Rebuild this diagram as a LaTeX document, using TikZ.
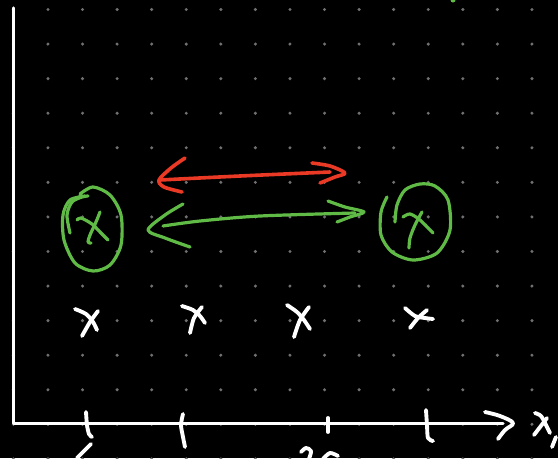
\documentclass[tikz,border=0pt]{standalone}
\definecolor{gr}{RGB}{96,186,70}
\definecolor{rd}{RGB}{234,58,38}
\definecolor{dotc}{RGB}{112,112,112}
\begin{document}
\begin{tikzpicture}[x=0.75pt,y=-0.75pt,
  wpen/.style={draw=white,line width=2.4pt,line cap=round,line join=round},
  wthick/.style={wpen,line width=2.9pt},
  gpen/.style={draw=gr,line width=2.4pt,line cap=round,line join=round},
  rpen/.style={draw=rd,line width=2.7pt,line cap=round,line join=round}]
\fill[black] (0,0) rectangle (558,458);
\useasboundingbox (0,0) rectangle (558,458);
% dot grid
\foreach \i in {0,...,15}{
  \foreach \j in {0,...,13}{
    \fill[dotc] ({13.4+34.57*\i},{9.5+34.57*\j}) circle (1.7);
  }
}
% axes
\coordinate (ytop) at (13.5,8);
\coordinate (orig) at (13.5,423.5);
\coordinate (xend) at (503,423.5);
\draw[wpen] (ytop) -- (orig) -- (xend);
\draw[wthick] plot[smooth,tension=0.6] coordinates {(485,412) (500,416) (513,423) (505,430) (498,439)};
% ticks
\draw[wthick] plot[smooth] coordinates {(86,412) (87,425) (89,434) (92,437)};
\draw[wthick] plot[smooth] coordinates {(183,414) (181,425) (183,437) (185,447)};
\draw[wthick] (328,418) -- (328,432);
\draw[wthick] plot[smooth] coordinates {(426,410) (427,425) (428,438) (433,441)};
% partial marks at the bottom
\draw[wthick] (91,444) -- (77,458);
\draw[wthick] plot[smooth] coordinates {(301,452) (306,448) (311,451) (309,459)};
\draw[wthick] plot[smooth] coordinates {(323,459) (330,453) (338,456)};
% x_1 label
\draw[wthick] plot[smooth] coordinates {(535,413) (541,416) (546,425) (550,433)};
\draw[wthick] (547,418) -- (534,435);
\draw[wthick] (552,447) -- (556,437);
% white x marks
\draw[wthick] plot[smooth] coordinates {(75,309) (86,314) (93,322) (97,330)};
\draw[wthick] plot[smooth] coordinates {(98,311) (90,322) (82,336)};
\draw[wthick] plot[smooth] coordinates {(182,306) (193,310) (200,316) (205,323)};
\draw[wthick] plot[smooth] coordinates {(202,307) (194,318) (190,333)};
\draw[wthick] plot[smooth] coordinates {(287,305) (297,312) (304,320) (310,329)};
\draw[wthick] plot[smooth] coordinates {(309,307) (300,320) (294,337)};
\draw[wthick] plot[smooth] coordinates {(405,308) (415,316) (425,318) (433,319)};
\draw[wthick] plot[smooth] coordinates {(427,310) (418,318) (410,328)};
% left green circle
\draw[gpen] plot[smooth] coordinates {(80,194) (93,187) (110,195) (121,215) (121,245) (110,265) (93,271) (75,263) (64,240) (63,215) (70,200) (85,196)};
\draw[gpen] plot[smooth] coordinates {(70,233) (67,215) (72,202) (82,197) (88,196)};
\draw[gpen] plot[smooth] coordinates {(77,220) (81,218) (92,224) (100,232) (108,240)};
\draw[gpen] plot[smooth] coordinates {(100,212) (96,222) (90,235) (88,242) (91,243)};
% right green circle
\draw[gpen] plot[smooth] coordinates {(387,197) (381,212) (381,235) (392,252) (413,260) (437,253) (450,230) (448,200) (435,186) (420,184) (405,190) (397,205) (395,222)};
\draw[gpen] plot[smooth] coordinates {(403,217) (410,214) (420,220) (433,233)};
\draw[gpen] plot[smooth] coordinates {(422,212) (415,225) (410,238) (409,248)};
% red double arrow
\coordinate (rl) at (159,180);
\coordinate (rr) at (345,173);
\draw[rpen] plot[smooth] coordinates {(160,180) (240,176) (330,172)};
\draw[rpen] plot[smooth,tension=0.5] coordinates {(185,158) (171,168) (rl) (164,187) (182,192)};
\draw[rpen] plot[smooth,tension=0.5] coordinates {(312,163) (330,166) (rr) (335,177) (320,183)};
% green double arrow
\coordinate (gl) at (148,230);
\coordinate (gr) at (364,212);
\draw[gpen] plot[smooth] coordinates {(163,226) (200,221) (260,216) (355,213)};
\draw[gpen] plot[smooth,tension=0.5] coordinates {(183,204) (165,215) (gl) (165,238) (190,247)};
\draw[gpen] plot[smooth,tension=0.5] coordinates {(328,201) (345,207) (gr) (350,217) (337,222)};
% green mark at top edge
\fill[gr] (453,0) circle (2.5);
\end{tikzpicture}
\end{document}
